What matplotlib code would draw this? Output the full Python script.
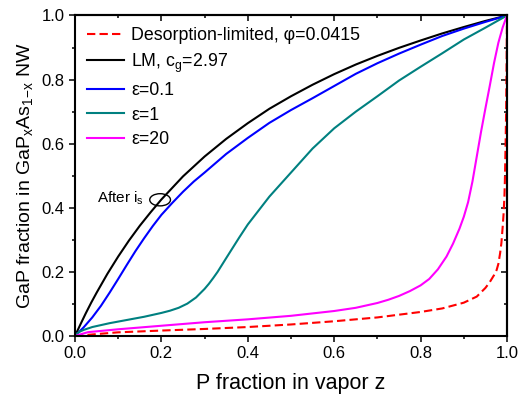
import numpy as np
import matplotlib
matplotlib.use("Agg")
import matplotlib.pyplot as plt
from matplotlib.patches import Ellipse

# values
z_des = [0, 0.05, 0.1, 0.2, 0.3, 0.4, 0.5, 0.6, 0.7, 0.8, 0.85, 0.9, 0.93, 0.95,
         0.96, 0.97, 0.976, 0.98, 0.984, 0.987, 0.99, 0.992, 0.994, 0.995, 0.996,
         0.997, 0.998, 0.999, 1.0]
x_des = [0, 0.006, 0.0115, 0.017, 0.022, 0.028, 0.036, 0.046, 0.058, 0.075, 0.086,
         0.104, 0.123, 0.15, 0.168, 0.19, 0.206, 0.225, 0.258, 0.29, 0.341, 0.38,
         0.435, 0.48, 0.549, 0.62, 0.705, 0.85, 1.0]

z_lm = [0, 0.0125, 0.025, 0.0375, 0.05, 0.075, 0.1, 0.125, 0.15, 0.175, 0.2, 0.25,
        0.3, 0.35, 0.4, 0.45, 0.5, 0.55, 0.6, 0.65, 0.7, 0.75, 0.8, 0.85, 0.9,
        0.95, 1.0]
x_lm = [0, 0.036, 0.071, 0.104, 0.135, 0.194, 0.248, 0.298, 0.344, 0.386, 0.426,
        0.498, 0.56, 0.615, 0.664, 0.709, 0.748, 0.784, 0.817, 0.847, 0.874, 0.899,
        0.922, 0.944, 0.964, 0.983, 1.0]

z_e01 = [0, 0.02, 0.04, 0.06, 0.08, 0.1, 0.12, 0.14, 0.16, 0.18, 0.2, 0.225, 0.25,
         0.275, 0.3, 0.35, 0.4, 0.45, 0.5, 0.55, 0.6, 0.65, 0.7, 0.75, 0.8, 0.85,
         0.9, 0.95, 1.0]
x_e01 = [0, 0.027, 0.058, 0.094, 0.135, 0.178, 0.222, 0.265, 0.305, 0.343, 0.378,
         0.415, 0.45, 0.482, 0.51, 0.568, 0.618, 0.665, 0.705, 0.742, 0.78, 0.818,
         0.851, 0.881, 0.909, 0.936, 0.959, 0.98, 1.0]

z_e1 = [0, 0.005, 0.01, 0.02, 0.04, 0.06, 0.08, 0.1, 0.12, 0.14, 0.16, 0.18, 0.2,
        0.22, 0.24, 0.26, 0.28, 0.3, 0.31, 0.32, 0.33, 0.35, 0.38, 0.4, 0.45, 0.5,
        0.55, 0.6, 0.65, 0.7, 0.75, 0.8, 0.85, 0.9, 0.95, 1.0]
x_e1 = [0, 0.008, 0.013, 0.019, 0.028, 0.034, 0.04, 0.045, 0.05, 0.055, 0.06, 0.066,
        0.072, 0.079, 0.088, 0.101, 0.12, 0.147, 0.163, 0.181, 0.2, 0.243, 0.307,
        0.348, 0.435, 0.51, 0.585, 0.648, 0.7, 0.748, 0.797, 0.84, 0.882, 0.925,
        0.962, 1.0]

z_e20 = [0, 0.03, 0.1, 0.2, 0.3, 0.4, 0.5, 0.6, 0.65, 0.7, 0.725, 0.75, 0.775, 0.8,
         0.82, 0.84, 0.86, 0.875, 0.89, 0.9, 0.91, 0.92, 0.93, 0.94, 0.95, 0.96,
         0.97, 0.98, 0.99, 1.0]
x_e20 = [0, 0.012, 0.021, 0.032, 0.043, 0.052, 0.063, 0.078, 0.088, 0.103, 0.113,
         0.125, 0.14, 0.158, 0.178, 0.208, 0.248, 0.288, 0.335, 0.372, 0.418, 0.482,
         0.56, 0.638, 0.71, 0.78, 0.852, 0.915, 0.963, 1.0]

plt.rcParams['font.family'] = ['Liberation Sans', 'DejaVu Sans']
plt.rcParams['mathtext.fontset'] = 'custom'
plt.rcParams['mathtext.rm'] = 'Liberation Sans'
plt.rcParams['mathtext.it'] = 'Liberation Sans'

fig = plt.figure(figsize=(5.19, 3.96), dpi=100)
ax = fig.add_axes([0.1445, 0.1515, 0.8324, 0.8094])

lw = 1.5
ax.plot(z_des, x_des, color='#FF0000', lw=lw, dashes=(4, 2),
        label='Desorption-limited, φ=0.0415')
ax.plot(z_lm, x_lm, color='black', lw=lw, label='LM, c$_\\mathregular{g}$=2.97')
ax.plot(z_e01, x_e01, color='#0000FF', lw=lw, label='ε=0.1')
ax.plot(z_e1, x_e1, color='#008080', lw=lw, label='ε=1')
ax.plot(z_e20, x_e20, color='#FF00FF', lw=lw, label='ε=20')

ax.add_patch(Ellipse((0.197, 0.425), 0.048, 0.038, fill=False, lw=1.0, color='black'))
ax.text(0.052, 0.43, 'After i$_\\mathregular{s}$', fontsize=11, va='center')

ax.set_xlim(0, 1)
ax.set_ylim(0, 1)
ticks = np.arange(0, 1.01, 0.2)
minor = np.arange(0.1, 1.0, 0.2)
ax.set_xticks(ticks)
ax.set_yticks(ticks)
ax.set_xticks(minor, minor=True)
ax.set_yticks(minor, minor=True)
ax.set_xticklabels(['%.1f' % t for t in ticks])
ax.set_yticklabels(['%.1f' % t for t in ticks])
ax.tick_params(which='major', direction='out', length=4, width=1.1, labelsize=12)
ax.tick_params(which='minor', direction='out', length=2, width=1.1)
for s in ax.spines.values():
    s.set_linewidth(1.5)

# inward ticks on the top and right
top = ax.secondary_xaxis('top')
right = ax.secondary_yaxis('right')
for sec in (top, right):
    sec.set_ticks(ticks)
    sec.set_ticks(minor, minor=True)
    sec.tick_params(which='major', direction='in', length=4, width=1.1,
                    labeltop=False, labelright=False)
    sec.tick_params(which='minor', direction='in', length=2, width=1.1)
    for s in sec.spines.values():
        s.set_linewidth(1.5)

ax.set_xlabel('P fraction in vapor z', fontsize=15.5, labelpad=8)
ax.set_ylabel('GaP fraction in GaP$_\\mathregular{x}$As$_\\mathregular{1{-}x}$ NW',
              fontsize=14, labelpad=5)

ax.legend(loc='upper left', frameon=False, fontsize=12.8, handlelength=2.1,
          handletextpad=0.4, labelspacing=0.42, borderaxespad=0.25)

fig.savefig('out.png', dpi=100)
